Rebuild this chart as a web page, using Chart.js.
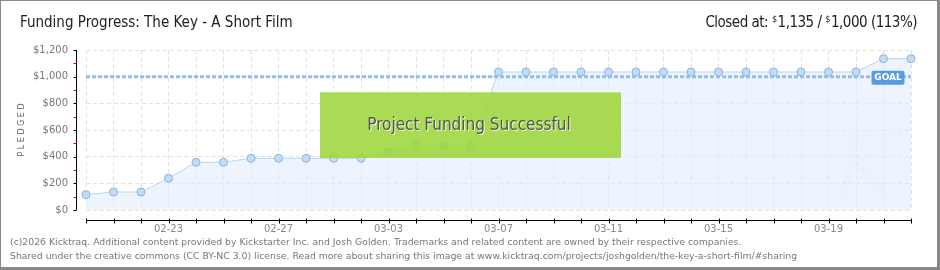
<!DOCTYPE html>
<html>
<head>
<meta charset="utf-8">
<script src="https://cdn.jsdelivr.net/npm/chart.js@4.4.0/dist/chart.umd.min.js"></script>
<style>
    body { margin: 0; background: #fff; }
    #wrap { position: relative; width: 940px; height: 270px; overflow: hidden; }
    #myChart { position: absolute; left: 0; top: 0; }
    .hdr { position: absolute; top: 13px; font-family: "DejaVu Sans", sans-serif; font-stretch: condensed; font-size: 15px; color: #222; white-space: nowrap; }
    .hdr sup { font-size: 9px; vertical-align: 5px; margin-right: 1px; }
    .foot { position: absolute; left: 10px; font-family: "DejaVu Sans", sans-serif; font-size: 9.3px; color: #777; white-space: nowrap; }
</style>
</head>
<body>
<div id="wrap">
    <canvas id="myChart" width="940" height="270"></canvas>
    <div class="hdr" style="left:20px;">Funding Progress: The Key - A Short Film</div>
    <div class="hdr" style="right:23px; letter-spacing:-0.5px;">Closed at: <sup>$</sup>1,135 / <sup>$</sup>1,000 (113%)</div>
    <div class="foot" style="top:236px;">(c)2026 Kicktraq. Additional content provided by Kickstarter Inc. and Josh Golden. Trademarks and related content are owned by their respective companies.</div>
    <div class="foot" style="top:250px;">Shared under the creative commons (CC BY-NC 3.0) license. Read more about sharing this image at www.kicktraq.com/projects/joshgolden/the-key-a-short-film/#sharing</div>
</div>
<script>
// daily dates (MM-DD), 02-20 .. 03-22
var days = ["02-20", "02-21", "02-22", "02-23", "02-24", "02-25", "02-26", "02-27", "02-28", "03-01",
    "03-02", "03-03", "03-04", "03-05", "03-06", "03-07", "03-08", "03-09", "03-10", "03-11",
    "03-12", "03-13", "03-14", "03-15", "03-16", "03-17", "03-18", "03-19", "03-20", "03-21", "03-22"];

// pledged total per day
var pledged = [115, 135, 135, 238, 358, 358, 388, 388, 388, 388,
    388, 435, 480, 480, 480, 1035, 1035, 1035, 1035, 1035,
    1035, 1035, 1035, 1035, 1035, 1035, 1035, 1035, 1035, 1135, 1135];

var goalValue = 1000;
var goal = days.map(function () { return goalValue; });

var yTicks = [0, 200, 400, 600, 800, 1000, 1200];

// axes drawn off to the side of the plot, plus the overlays
var decorPlugin = {
    id: 'decor',
    beforeDatasetsDraw: function (chart) {
        var ctx = chart.ctx;
        var area = chart.chartArea;
        // faint watermark
        ctx.save();
        ctx.fillStyle = 'rgba(0,0,0,0.025)';
        ctx.font = 'italic 90px "DejaVu Serif", serif';
        ctx.textAlign = 'center';
        ctx.textBaseline = 'alphabetic';
        ctx.fillText('K', area.right - 45, area.bottom - 12);
        ctx.restore();
    },
    afterDraw: function (chart) {
        var ctx = chart.ctx;
        var x = chart.scales.x;
        var y = chart.scales.y;
        var area = chart.chartArea;
        ctx.save();

        // y axis
        var ax = Math.round(area.left) - 10 + 0.5;
        ctx.strokeStyle = '#000';
        ctx.lineWidth = 1;
        ctx.beginPath();
        ctx.moveTo(ax, y.getPixelForValue(1200));
        ctx.lineTo(ax, y.getPixelForValue(0));
        ctx.stroke();
        for (var v = 0; v <= 1200; v += 100) {
            var py = Math.round(y.getPixelForValue(v)) + 0.5;
            ctx.strokeStyle = (v % 200 === 0) ? '#000' : '#e00';
            ctx.beginPath();
            ctx.moveTo(ax - 3, py);
            ctx.lineTo(ax, py);
            ctx.stroke();
        }

        // x axis
        var ay = Math.round(area.bottom) + 10 + 0.5;
        ctx.strokeStyle = '#000';
        ctx.beginPath();
        ctx.moveTo(x.getPixelForValue(0), ay);
        ctx.lineTo(x.getPixelForValue(days.length - 1), ay);
        ctx.stroke();
        for (var i = 0; i < days.length; i++) {
            var px = Math.round(x.getPixelForValue(i)) + 0.5;
            ctx.beginPath();
            ctx.moveTo(px, ay - 2);
            ctx.lineTo(px, ay + 3);
            ctx.stroke();
        }

        // "Project Funding Successful" banner
        ctx.fillStyle = 'rgba(158,214,60,0.88)';
        ctx.fillRect(320, 92, 301, 66);
        ctx.fillStyle = 'rgba(190,235,110,0.9)';
        ctx.fillRect(320, 92, 301, 1);
        ctx.font = 'condensed 17px "DejaVu Sans", sans-serif';
        ctx.textAlign = 'center';
        ctx.textBaseline = 'middle';
        ctx.fillStyle = 'rgba(255,255,255,0.8)';
        ctx.fillText('Project Funding Successful', 470, 127);
        ctx.fillStyle = '#555';
        ctx.fillText('Project Funding Successful', 469, 126);

        // goal tag
        var gy = y.getPixelForValue(goalValue);
        var gx = x.getPixelForValue(days.length - 2) - 12;
        ctx.fillStyle = '#5b9bdc';
        ctx.beginPath();
        ctx.roundRect(gx, gy - 6, 33, 14, 2);
        ctx.fill();
        ctx.fillStyle = '#fff';
        ctx.font = 'bold 9px "DejaVu Sans", sans-serif';
        ctx.textAlign = 'center';
        ctx.fillText('GOAL', gx + 16.5, gy + 1);

        // y axis title
        ctx.translate(22, (area.top + area.bottom) / 2);
        ctx.rotate(-Math.PI / 2);
        ctx.fillStyle = '#666';
        ctx.font = '8px "DejaVu Sans", sans-serif';
        ctx.textAlign = 'center';
        ctx.fillText('P L E D G E D', 0, 0);
        ctx.restore();

        // frame
        ctx.save();
        ctx.fillStyle = '#888';
        ctx.fillRect(0, 0, 940, 1);
        ctx.fillRect(0, 0, 1, 270);
        ctx.fillRect(937, 0, 3, 270);
        ctx.fillRect(0, 267, 940, 3);
        ctx.restore();
    }
};

var ctx = document.getElementById('myChart').getContext('2d');
var myChart = new Chart(ctx, {
    type: 'line',
    data: {
        labels: days,
        datasets: [{
            label: 'Pledged',
            data: pledged,
            fill: 'origin',
            backgroundColor: 'rgba(225,236,252,0.6)',
            borderColor: '#b9d5f2',
            borderWidth: 1,
            pointRadius: 4,
            pointBackgroundColor: '#c3dcf6',
            pointBorderColor: '#8eb2da',
            pointBorderWidth: 1,
            tension: 0,
            order: 2
        }, {
            label: 'Goal',
            data: goal,
            fill: false,
            borderColor: '#93bdea',
            borderWidth: 3,
            borderDash: [4, 2],
            pointRadius: 0,
            order: 1
        }]
    },
    options: {
        responsive: false,
        animation: false,
        events: [],
        layout: { padding: { left: 0, top: 50, right: 29, bottom: 30 } },
        plugins: { legend: { display: false }, tooltip: { enabled: false } },
        scales: {
            x: {
                offset: false,
                grid: { color: '#e2e2e2', drawTicks: false },
                border: { display: false, dash: [4, 3] },
                afterFit: function (scale) { scale.height = 30; },
                ticks: {
                    autoSkip: false,
                    maxRotation: 0,
                    padding: 13,
                    color: '#888',
                    font: { family: '"DejaVu Sans"', size: 10 },
                    callback: function (val, i) {
                        return (i - 3) % 4 === 0 ? days[i] : '';
                    }
                }
            },
            y: {
                min: 0,
                max: 1200,
                afterBuildTicks: function (scale) {
                    scale.ticks = yTicks.map(function (v) { return { value: v }; });
                },
                afterFit: function (scale) { scale.width = 86; },
                grid: { color: '#e2e2e2', drawTicks: false },
                border: { display: false, dash: [4, 3] },
                ticks: {
                    padding: 18,
                    color: '#777',
                    font: { family: '"DejaVu Sans"', size: 10 },
                    callback: function (val) { return '$' + val.toLocaleString('en-US'); }
                }
            }
        }
    },
    plugins: [decorPlugin]
});
</script>
</body>
</html>
